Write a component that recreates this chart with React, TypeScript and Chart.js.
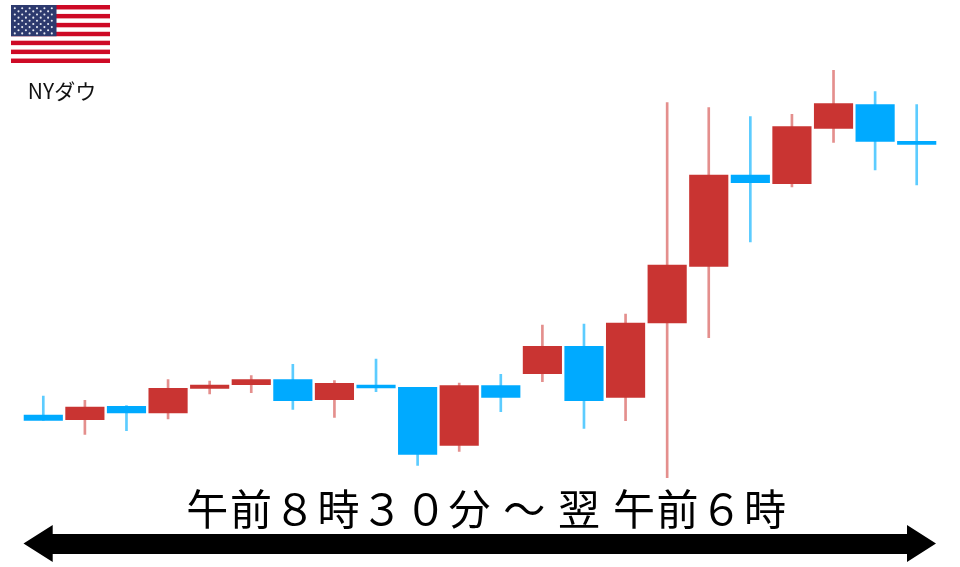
import React, { useEffect, useRef } from "react";
import { Chart, registerables } from "chart.js";

Chart.register(...registerables);

const categories = ["1","2","3","4","5","6","7","8","9","10","11","12","13","14","15","16","17","18","19","20","21","22"];
const opens  = [85, 80.3, 93.7, 87, 111.7, 115.3, 120.3, 100.3, 115, 112.7, 54.7, 114.3, 126.3, 153.7, 102.7, 177, 233.7, 325, 316.3, 371.7, 395.3, 358.7];
const closes = [79.7, 93, 87, 111.7, 115, 120.3, 99.3, 116.7, 112, 45.7, 114.3, 102.7, 153.7, 99.3, 177, 235, 325, 317.3, 373.3, 396.3, 358.7, 355.7];
const highs  = [104, 99.7, 94.3, 120.3, 119, 124.3, 135.7, 119.3, 141, 112.7, 117, 125.7, 175, 176, 186, 397.3, 392.3, 383.3, 385.7, 429.7, 408.3, 395.3];
const lows   = [79.7, 65.7, 69.3, 81, 106, 107.3, 90.7, 82.7, 108.3, 34.7, 48.7, 88.3, 118.3, 71.7, 79.3, 22.3, 162.3, 258, 313, 357.7, 330, 315];

const title = "午前８時３０分 ～ 翌 午前６時";
const flagLabel = "NYダウ";

const UP = "#C93432";
const DOWN = "#00AAFF";
const UP_WICK = "#E48F8D";
const DOWN_WICK = "#5CCCFF";

const starRows = [6, 5, 6, 5, 6, 5, 6, 5, 6];

function Flag() {
  const stripeH = 58 / 13;
  return (
    <svg width={99} height={58} style={{ position: "absolute", left: 11, top: 5 }}>
      <rect width={99} height={58} fill="#ffffff" />
      {Array.from({ length: 7 }, (_, i) => (
        <rect key={i} x={0} y={i * 2 * stripeH} width={99} height={stripeH} fill="#CE0A26" />
      ))}
      <rect width={45.5} height={stripeH * 7} fill="#2D3A6E" />
      {starRows.map((n, r) =>
        Array.from({ length: n }, (_, c) => (
          <circle
            key={`${r}-${c}`}
            cx={(n === 6 ? 3.8 : 7.5) + c * 7.4}
            cy={3.2 + r * 3.15}
            r={1.05}
            fill="#E8EAF2"
          />
        ))
      )}
    </svg>
  );
}

export default function App() {
  const ref = useRef<HTMLCanvasElement>(null);

  useEffect(() => {
    document.body.style.margin = "0";
    const colorOf = (i: number, a: string, b: string) => (closes[i] >= opens[i] ? a : b);
    const chart = new Chart(ref.current as HTMLCanvasElement, {
      type: "bar",
      data: {
        labels: categories,
        datasets: [
          {
            label: "body",
            data: categories.map((_, i) => [opens[i], closes[i]]) as any,
            backgroundColor: categories.map((_, i) => colorOf(i, UP, DOWN)),
            barThickness: 38.5,
            grouped: false,
            borderWidth: 0,
          } as any,
          {
            label: "wick",
            data: categories.map((_, i) => [lows[i], highs[i]]) as any,
            backgroundColor: categories.map((_, i) => colorOf(i, UP_WICK, DOWN_WICK)),
            barThickness: 2,
            grouped: false,
            borderWidth: 0,
          } as any,
        ],
      },
      options: {
        responsive: false,
        animation: false,
        layout: { padding: { left: 22.5, right: 22.5, top: 0, bottom: 0 } },
        plugins: { legend: { display: false }, tooltip: { enabled: false } },
        scales: {
          x: { display: false, grid: { display: false } },
          y: { display: false, min: -67, max: 500, grid: { display: false } },
        },
      },
    });
    return () => chart.destroy();
  }, []);

  return (
    <div style={{ position: "absolute", left: 0, top: 0, width: 960, height: 567, background: "#fff", overflow: "hidden", filter: "blur(0.4px)" }}>
      <canvas ref={ref} width={960} height={567} style={{ position: "absolute", left: 0, top: 0 }} />
      <Flag />
      <div style={{ position: "absolute", left: 0, top: 74, width: 124, textAlign: "center", fontFamily: "'Noto Sans CJK JP'", fontSize: 21, lineHeight: "32px", color: "#111", whiteSpace: "nowrap" }}>
        {flagLabel}
      </div>
      <div style={{ position: "absolute", left: 0, top: 477, width: 974, textAlign: "center", fontFamily: "'Noto Sans CJK JP'", fontSize: 42, lineHeight: "60px", letterSpacing: 1.7, color: "#000", whiteSpace: "pre" }}>
        {title}
      </div>
      <svg width={960} height={567} style={{ position: "absolute", left: 0, top: 0 }}>
        <polygon points="23.5,543.5 52.7,525 52.7,534 907,534 907,525 936,543.5 907,562 907,554 52.7,554 52.7,562" fill="#000" />
      </svg>
    </div>
  );
}
